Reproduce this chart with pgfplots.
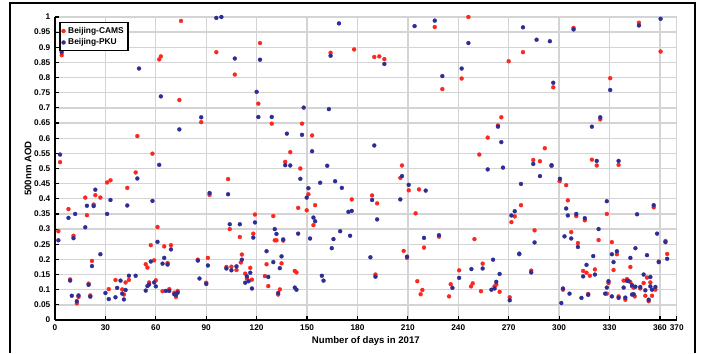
\documentclass[border=0pt]{standalone}
\usepackage{pgfplots}
\pgfplotsset{compat=1.18}
\usepackage{fontspec}
\setmainfont{Liberation Sans}
\definecolor{cams}{RGB}{250,40,30}
\definecolor{pku}{RGB}{45,45,150}
\definecolor{gridc}{RGB}{212,212,212}
\begin{document}
\begin{tikzpicture}
\path (0pt,0pt) rectangle (527.25pt,264.75pt);
\draw[line width=1.1pt] (7.5pt,0pt) -- (7.5pt,262.5pt) -- (521.25pt,262.5pt) -- (521.25pt,0pt);
\begin{axis}[
  at={(41.25pt,24.75pt)}, anchor=south west,
  scale only axis, width=466.3pt, height=227.25pt,
  xmin=0, xmax=370, ymin=0, ymax=1,
  axis lines=left, axis line style={-, line width=1.1pt, black},
  xtick={0,30,...,360,370}, ytick={0,0.05,...,1.0001},
  tick align=inside, major tick length=3pt,
  tick style={black, line width=0.9pt},
  grid=major, major grid style={draw=gridc, line width=1pt},
  /pgf/number format/assume math mode=true,
  /pgf/number format/fixed, /pgf/number format/precision=2,
  tick label style={font=\bfseries\fontsize{6.2}{7}\selectfont},
  xlabel={Number of days in 2017}, ylabel={500nm AOD},
  label style={font=\bfseries\fontsize{7.2}{8}\selectfont},
  xlabel style={at={(axis description cs:0.5,-0.071)}, anchor=center},
  ylabel style={at={(axis description cs:-0.0434,0.5)}, anchor=center},
  legend style={at={(0.007,0.983)}, anchor=north west, draw=black, line width=0.9pt,
    font=\bfseries\fontsize{6.3}{7}\selectfont, inner sep=1.2pt, row sep=-1.5pt},
  legend cell align=left,
]
\addplot[only marks, mark=*, mark size=1.5pt, color=cams, mark options={line width=0.2pt}] coordinates {
(4,0.874)(3,0.521)(49,0.607)(62,0.860)(63,0.870)(58,0.549)(75,0.987)(74,0.726)(87,0.653)(96,0.884)(107,0.810)
(122,0.914)(121,0.714)(129,0.648)(164,0.882)(178,0.893)(190,0.868)(193,0.870)(196,0.861)(147,0.648)(140,0.554)
(137,0.522)(146,0.500)(153,0.609)(206.5,0.510)(226,0.967)(230.5,0.762)(246,1.0)(242,0.797)(278.5,0.884)(270,0.854)
(308.6,0.964)(296.5,0.768)(330.4,0.798)(347.5,0.981)(360.4,0.886)(265.6,0.669)(263.6,0.642)(257.5,0.602)(252.5,0.546)
(291.5,0.567)(284.6,0.528)(288.6,0.524)(295.5,0.508)(324.5,0.662)(319.5,0.529)(322.4,0.510)(335.4,0.512)
(2,0.293)(8,0.366)(9,0.134)(11,0.278)(13,0.055)(14,0.076)(18,0.404)(19,0.346)(20,0.120)(21,0.081)(22,0.195)
(23,0.381)(24,0.412)(27,0.404)(31,0.454)(33,0.461)(32,0.102)(36,0.132)(40,0.101)(41,0.084)(42,0.124)(43,0.436)
(44,0.132)(48,0.487)(54,0.184)(55,0.173)(56,0.124)(57,0.247)(59,0.197)(60,0.131)(61,0.307)(64,0.095)(65,0.243)
(67,0.188)(68,0.102)(69,0.247)(71,0.090)(72,0.076)(73,0.096)(85,0.199)(90,0.123)(91,0.205)(92,0.413)(103,0.465)
(102,0.175)(104,0.300)(105,0.176)(108,0.165)(110,0.274)
(150.8,0.415)(149.8,0.362)(154.8,0.379)(144.7,0.370)(153.8,0.313)(176.6,0.398)(188.7,0.411)(191.7,0.385)(190.7,0.150)
(205.5,0.469)(210.5,0.428)(216.6,0.431)(214.6,0.352)(207.5,0.228)(209.5,0.205)(219.6,0.239)(228.5,0.275)(215.6,0.128)
(218.6,0.099)(217.6,0.085)(234.5,0.078)(235.5,0.118)(240.5,0.164)(111.2,0.216)(110.6,0.190)(113.2,0.153)(114.2,0.137)
(116.2,0.172)(117.2,0.133)(118,0.285)(119,0.348)(125.9,0.184)(124.9,0.145)(126.9,0.112)(129.9,0.343)(130.8,0.263)
(131.8,0.263)(135.8,0.262)(134.8,0.187)(133.8,0.101)(132.8,0.084)(142.7,0.162)(143.7,0.157)
(300.3,0.458)(304.2,0.445)(277.3,0.379)(305.2,0.395)(310.2,0.343)(315.3,0.329)(273.6,0.342)(271.6,0.323)(285.4,0.296)
(328.4,0.350)(356.3,0.372)(363.3,0.261)(364.3,0.218)(359.3,0.193)(323.5,0.264)(307.2,0.290)(311.2,0.254)(331.4,0.257)
(334.4,0.217)(332.4,0.165)(342.4,0.175)(314.3,0.162)(316.3,0.156)(318.3,0.146)(321.3,0.167)(249.6,0.267)(254.5,0.186)
(262.6,0.117)(261.6,0.111)(248.6,0.121)(247.6,0.111)(253.5,0.095)(264.6,0.093)(276.3,0.217)(283.4,0.163)(270.6,0.075)
(302.3,0.100)(317.3,0.086)(328.4,0.087)(329.4,0.122)(335.4,0.078)(339.4,0.067)(338.4,0.130)(340.4,0.135)(342.4,0.125)
(343.4,0.111)(344.4,0.107)(345,0.078)(348.3,0.104)(350.3,0.122)(352.3,0.140)(354.3,0.124)(351.3,0.080)(353.3,0.062)
(355.3,0.080)(357.3,0.100)
};
\addlegendentry{Beijing-CAMS}
\addplot[only marks, mark=*, mark size=1.5pt, color=pku, mark options={line width=0.2pt}] coordinates {
(4,0.884)(3,0.546)(50,0.830)(49,0.467)(63,0.738)(62,0.512)(74,0.629)(87,0.669)(96,0.997)(99,1.0)(107,0.863)
(120,0.753)(122,0.859)(121,0.670)(129,0.670)(148,0.701)(163,0.696)(169,0.979)(164,0.872)(196,0.845)(190,0.576)
(138,0.615)(147,0.611)(153,0.557)(137,0.511)(140,0.510)(146,0.466)(162,0.509)(206.5,0.475)(214,0.970)(226,0.988)
(230.5,0.805)(246,0.914)(242,0.830)(278.5,0.966)(286.6,0.925)(294.5,0.920)(308.6,0.959)(296.5,0.783)(330.4,0.759)
(347.5,0.972)(360.4,0.994)(263.6,0.638)(265.6,0.587)(257.5,0.497)(266.6,0.503)(284.6,0.515)(295.5,0.511)(288.6,0.475)
(300.5,0.466)(324.5,0.669)(319.5,0.638)(322.4,0.525)(335.4,0.525)
(2,0.263)(8,0.337)(9,0.130)(10,0.080)(11,0.270)(12,0.350)(13,0.062)(14,0.081)(18,0.306)(19,0.377)(20,0.116)(21,0.077)
(22,0.178)(23,0.376)(24,0.430)(27,0.217)(30,0.089)(31,0.350)(33,0.396)(32,0.069)(36,0.075)(37,0.106)(39,0.130)
(40,0.087)(41,0.068)(42,0.099)(43,0.378)(44,0.146)(48,0.146)(54,0.097)(55,0.112)(56,0.117)(57,0.193)(58,0.393)
(59,0.124)(60,0.111)(61,0.258)(64,0.186)(65,0.205)(67,0.183)(66,0.096)(68,0.096)(69,0.233)(71,0.085)(72,0.083)
(73,0.090)(85,0.196)(86,0.137)(90,0.119)(91,0.180)(92,0.419)(103,0.415)(102,0.170)(104,0.316)(105,0.164)(108,0.177)
(110,0.316)
(150.8,0.435)(149.8,0.404)(157.8,0.453)(144.7,0.285)(166.7,0.458)(170.7,0.436)(174.6,0.357)(176.6,0.360)(169.7,0.293)
(165.7,0.267)(164.7,0.237)(175.6,0.278)(153.8,0.338)(154.8,0.326)(151.8,0.269)(158.8,0.146)(159.8,0.130)(188.7,0.396)
(191.7,0.332)(187.7,0.207)(190.7,0.143)(205.5,0.398)(210.5,0.446)(220.6,0.427)(209.5,0.209)(219.6,0.271)(228.5,0.280)
(236.5,0.106)(240.5,0.139)(111.2,0.199)(114.2,0.144)(113.2,0.123)(115.2,0.128)(116.2,0.156)(117.2,0.104)(118,0.272)
(119,0.322)(125.9,0.227)(126.9,0.142)(130.8,0.300)(131.8,0.284)(135.8,0.266)(129.9,0.191)(134.8,0.210)(133.8,0.171)
(132.8,0.089)(142.7,0.107)(143.7,0.100)
(277.3,0.449)(304.2,0.368)(305.2,0.345)(310.2,0.350)(315.3,0.336)(273.6,0.359)(271.6,0.345)(285.4,0.256)(328.4,0.392)
(346.4,0.349)(356.3,0.379)(358.3,0.285)(363.3,0.257)(364.3,0.202)(359.3,0.191)(323.5,0.300)(307.2,0.269)(303.2,0.276)
(311.2,0.241)(331.4,0.217)(334.4,0.227)(332.4,0.191)(345.4,0.237)(342.4,0.205)(352.3,0.214)(320.3,0.211)(316.3,0.182)
(314.3,0.144)(321.3,0.150)(260.7,0.199)(254.5,0.170)(247.8,0.168)(264.6,0.152)(262.6,0.126)(261.6,0.104)(259.7,0.100)
(276.3,0.219)(283.4,0.157)(270.6,0.065)(302.3,0.104)(301.3,0.056)(306.2,0.087)(313.3,0.073)(317.3,0.083)(327.4,0.087)
(328.4,0.107)(329.4,0.128)(331.4,0.078)(335.4,0.073)(339.4,0.074)(338.4,0.107)(340.4,0.129)(341.4,0.129)(343.4,0.115)
(345.4,0.110)(343.4,0.084)(344.4,0.085)(348.3,0.109)(350.3,0.150)(354.3,0.142)(354.3,0.111)(351.3,0.098)(353.3,0.067)
(355.3,0.100)(357.3,0.109)
};
\addlegendentry{Beijing-PKU}
\end{axis}
\end{tikzpicture}
\end{document}
